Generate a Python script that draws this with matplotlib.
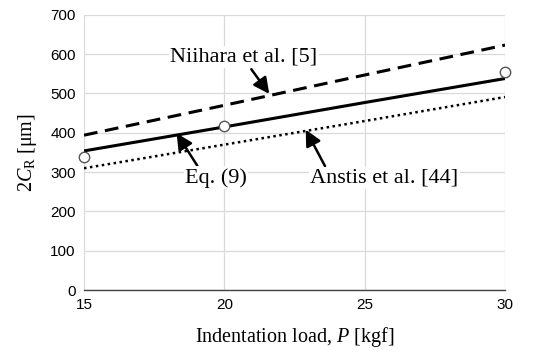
import matplotlib.pyplot as plt

# Data
load = [15, 20, 25, 30]
eq9 = [354, 415, 477, 538]
niihara = [394, 470, 547, 623]
anstis = [310, 370, 430, 491]
meas_load = [15, 20, 30]
meas_crack = [339, 418, 555]

serif = ['Liberation Serif', 'DejaVu Serif']
sans = ['Liberation Sans', 'DejaVu Sans']

plt.rcParams['mathtext.fontset'] = 'custom'
plt.rcParams['mathtext.rm'] = 'Liberation Serif'
plt.rcParams['mathtext.it'] = 'Liberation Serif:italic'

fig = plt.figure(figsize=(5.35, 3.53), dpi=100)
ax = fig.add_axes([0.157, 0.178, 0.787, 0.78])

ax.plot(load, niihara, color='black', lw=2.2, linestyle=(0, (4.5, 2.5)))
ax.plot(load, eq9, color='black', lw=2.2)
ax.plot(load, anstis, color='black', lw=1.8, linestyle=(0, (1, 1.4)))
ax.plot(meas_load, meas_crack, linestyle='none', marker='o', ms=7.5,
        mfc='white', mec='#555555', mew=1.0, zorder=5, clip_on=False)

ax.set_xlim(15, 30)
ax.set_ylim(0, 700)
ax.set_xticks([15, 20, 25, 30])
ax.set_yticks(range(0, 701, 100))
ax.grid(True, color='#d9d9d9', lw=0.9)
ax.set_axisbelow(True)
for s in ['top', 'right', 'left']:
    ax.spines[s].set_visible(False)
ax.spines['bottom'].set_color('#404040')
ax.spines['bottom'].set_linewidth(1.0)
ax.tick_params(length=0, labelsize=11, pad=6)
for lab in ax.get_xticklabels() + ax.get_yticklabels():
    lab.set_family(sans)

ax.set_xlabel('Indentation load, $P$ [kgf]', family=serif, fontsize=14.5, labelpad=9)
ax.set_ylabel(r'2$C_{\mathrm{R}}$ [$\mathrm{\mu}$m]', family=serif, fontsize=14.5, labelpad=8)

bbox = dict(facecolor='white', edgecolor='none', pad=1)
arrow = dict(arrowstyle='-|>,head_length=0.6,head_width=0.3', color='black', lw=1.8,
             shrinkA=0, shrinkB=0)
ax.annotate('Niihara et al. [5]', xy=(21.6, 499), xytext=(20.7, 593),
            ha='center', va='center', family=serif, fontsize=16, bbox=bbox,
            arrowprops=dict(arrow, relpos=(0.55, -0.15)))
ax.annotate('Eq. (9)', xy=(18.3, 399), xytext=(19.7, 286),
            ha='center', va='center', family=serif, fontsize=16, bbox=bbox,
            arrowprops=dict(arrow, relpos=(0.2, 1.1)))
ax.annotate('Anstis et al. [44]', xy=(22.9, 408), xytext=(25.7, 286),
            ha='center', va='center', family=serif, fontsize=16, bbox=bbox,
            arrowprops=dict(arrow, relpos=(0.1, 1.1)))

fig.savefig('out.png', dpi=100)
